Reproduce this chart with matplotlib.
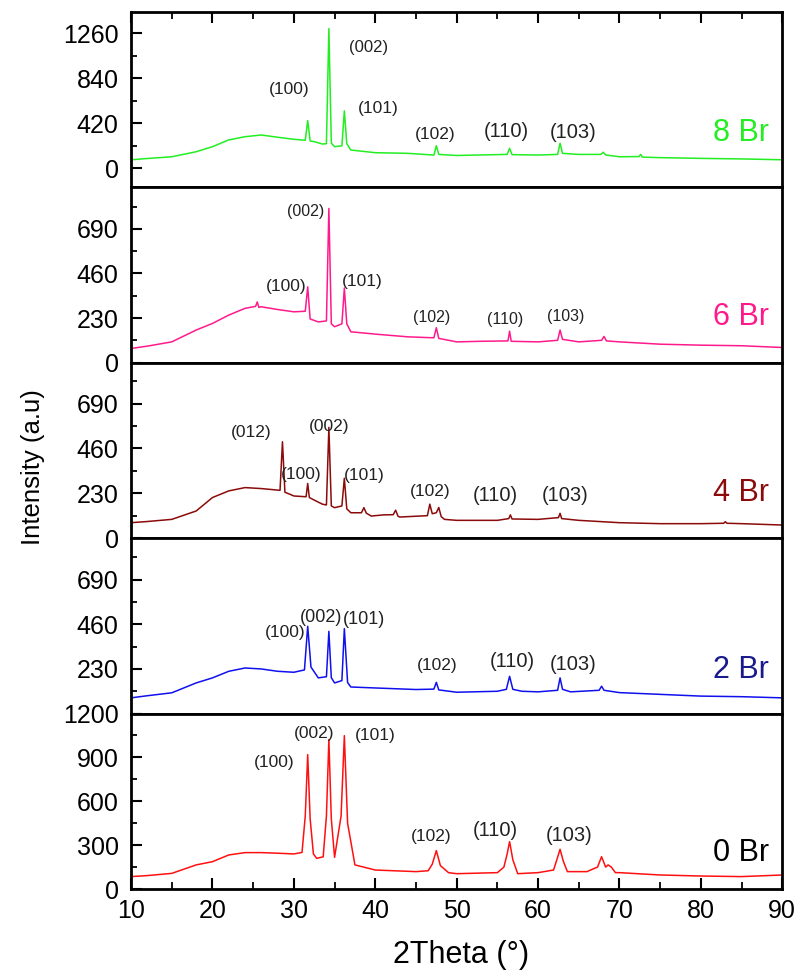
import matplotlib
matplotlib.use("Agg")
import matplotlib.pyplot as plt
from matplotlib.ticker import MultipleLocator

plt.rcParams['font.family'] = ['Liberation Sans', 'DejaVu Sans']

# values (2theta, intensity)
tt_8br = [10, 12, 15, 18, 20, 22, 24, 26, 28, 30, 31.4, 31.7, 32.0, 32.5, 33.5, 34.0, 34.3, 34.6,
          35.0, 35.9, 36.2, 36.5, 37, 40, 44, 47.2, 47.5, 47.8, 50, 53, 56.2, 56.5, 56.8, 60,
          62.4, 62.7, 63.0, 65, 67.7, 68, 68.3, 70, 72.4, 72.6, 72.8, 75, 80, 85, 90]
int_8br = [80, 92, 108, 155, 202, 265, 295, 311, 290, 271, 262, 445, 255, 249, 227, 230, 1302, 235,
           202, 210, 536, 230, 171, 146, 140, 124, 211, 130, 120, 125, 130, 187, 128, 124,
           130, 234, 140, 130, 130, 150, 125, 108, 110, 130, 105, 100, 93, 88, 80]

tt_6br = [10, 12, 15, 18, 20, 22, 24, 25.3, 25.5, 25.7, 26, 28, 30, 31.4, 31.7, 32.0, 33, 34.0,
          34.3, 34.6, 35, 35.9, 36.2, 36.5, 37, 40, 44, 47.2, 47.5, 47.8, 50, 53, 56.3, 56.5,
          56.7, 60, 62.4, 62.7, 63.0, 65, 67.8, 68.1, 68.4, 70, 75, 80, 85, 90]
int_6br = [73, 85, 107, 168, 202, 245, 280, 290, 313, 285, 288, 274, 262, 265, 391, 225, 210, 215,
           795, 200, 185, 200, 385, 200, 159, 147, 133, 128, 180, 125, 107, 110, 112, 162,
           110, 107, 115, 168, 120, 107, 115, 135, 112, 107, 95, 90, 87, 78]

tt_4br = [10, 12, 15, 18, 20, 22, 24, 26, 28.3, 28.6, 28.9, 29.5, 30, 31.5, 31.7, 31.9, 32.5,
          33.5, 34.0, 34.3, 34.6, 35, 35.9, 36.2, 36.5, 37, 38.3, 38.6, 38.9, 39.5, 41, 42.2,
          42.5, 42.8, 43, 46.4, 46.7, 47.0, 47.5, 47.8, 48.1, 48.5, 50, 55, 56.4, 56.6, 56.8,
          60, 62.5, 62.7, 62.9, 65, 70, 75, 80, 82.8, 83, 83.2, 85, 90]
int_4br = [79, 85, 96, 139, 208, 242, 259, 254, 245, 494, 235, 225, 216, 212, 280, 208, 195,
           174, 170, 568, 165, 156, 165, 307, 150, 130, 130, 156, 128, 113, 119, 120,
           143, 112, 108, 115, 174, 125, 130, 157, 110, 96, 91, 91, 100, 119, 98,
           96, 105, 127, 100, 91, 79, 74, 74, 76, 84, 76, 74, 67]

tt_2br = [10, 12, 15, 18, 20, 22, 24, 26, 28, 30, 31.3, 31.7, 32.1, 33, 34.0, 34.3, 34.6, 35,
          35.9, 36.2, 36.6, 37, 40, 45, 47.2, 47.5, 47.8, 50, 55, 56.1, 56.5, 56.9, 58, 60,
          62.4, 62.7, 63.0, 64, 67.5, 67.8, 68.1, 70, 75, 80, 85, 90]
int_2br = [81, 92, 107, 158, 184, 218, 235, 230, 218, 213, 225, 450, 240, 184, 190, 424, 185, 158,
           170, 438, 160, 137, 132, 124, 126, 161, 122, 110, 115, 125, 192, 125, 115, 112,
           120, 184, 125, 112, 120, 141, 120, 108, 99, 90, 87, 81]

tt_0br = [10, 12, 15, 18, 20, 22, 24, 26, 28, 30, 31.0, 31.4, 31.7, 32.0, 32.4, 32.8, 33.6, 34.0,
          34.3, 34.6, 35.0, 35.8, 36.2, 36.6, 37.5, 40, 45, 46.5, 47.0, 47.5, 48.0, 49, 50, 55,
          55.8, 56.2, 56.5, 56.9, 57.5, 60, 61.9, 62.3, 62.7, 63.1, 63.6, 64, 66, 67.3, 67.8,
          68.3, 68.6, 69.0, 69.5, 70, 75, 80, 85, 90]
int_0br = [85, 92, 107, 165, 187, 233, 249, 249, 245, 240, 250, 500, 919, 480, 240, 210, 220, 500,
           1022, 480, 217, 500, 1049, 450, 165, 130, 119, 125, 170, 263, 160, 112, 105, 112,
           150, 240, 324, 200, 105, 112, 130, 200, 272, 190, 119, 119, 119, 150, 221,
           150, 165, 150, 112, 112, 96, 89, 85, 96]

# peak labels: (text, x, y, fontsize)
lab_8br = [("(100)", 29.4, 732, 12.5), ("(002)", 39.2, 1128, 12), ("(101)", 40.4, 554, 12.5),
           ("(102)", 47.4, 318, 12.5), ("(110)", 56.1, 342, 14.5), ("(103)", 64.3, 332, 14.5)]
lab_6br = [("(002)", 31.4, 778, 11.5), ("(100)", 29.1, 394, 12.5), ("(101)", 38.4, 416, 12.5),
           ("(102)", 46.9, 231, 11.5), ("(110)", 55.9, 222, 11.5), ("(103)", 63.4, 236, 11.5)]
lab_4br = [("(012)", 24.7, 542, 12.5), ("(100)", 30.9, 328, 12.5), ("(002)", 34.3, 573, 12.5),
           ("(101)", 38.6, 323, 12.5), ("(102)", 46.7, 237, 12.5), ("(110)", 54.8, 216, 14.5),
           ("(103)", 63.3, 216, 14.5)]
lab_2br = [("(100)", 28.9, 419, 12.5), ("(002)", 33.3, 498, 13), ("(101)", 38.6, 484, 13),
           ("(102)", 47.6, 247, 12.5), ("(110)", 56.8, 266, 14.5), ("(103)", 64.3, 252, 14.5)]
lab_0br = [("(100)", 27.6, 862, 12.5), ("(002)", 32.5, 1061, 12.5), ("(101)", 40.0, 1049, 12.5),
           ("(102)", 46.9, 359, 12.5), ("(110)", 54.8, 400, 14.5), ("(103)", 63.8, 365, 14.5)]

panels = [
    ("8 Br", tt_8br, int_8br, lab_8br, "#22ee22", "#22ee22", (-175, 1460), [0, 420, 840, 1260], 210, 327),
    ("6 Br", tt_6br, int_6br, lab_6br, "#ff1a8c", "#ff1a8c", (0, 905), [0, 230, 460, 690], 115, 236),
    ("4 Br", tt_4br, int_4br, lab_4br, "#8b0a0a", "#8b0a0a", (0, 900), [0, 230, 460, 690], 115, 233),
    ("2 Br", tt_2br, int_2br, lab_2br, "#1010ee", "#1a1a8c", (0, 905), [0, 230, 460, 690], 115, 223),
    ("0 Br", tt_0br, int_0br, lab_0br, "#ff1010", "black", (0, 1200), [0, 300, 600, 900, 1200], 150, 249),
]

fig, axes = plt.subplots(5, 1, sharex=True, figsize=(8.09, 9.73), dpi=100)
fig.subplots_adjust(left=0.162, right=0.967, top=0.988, bottom=0.0863, hspace=0)

for i, (name, xs, ys, labs, c, tc, ylim, yt, minor, ty) in enumerate(panels):
    ax = axes[i]
    ax.plot(xs, ys, color=c, lw=1.1)
    for t, lx, ly, fs in labs:
        ax.text(lx, ly, t, fontsize=fs, ha='center', va='center', color='#222222')
    ax.text(84.9, ty, name, fontsize=22, ha='center', va='center', color=tc)
    ax.set_xlim(10, 90)
    ax.set_ylim(*ylim)
    ax.set_yticks(yt)
    if name == "2 Br":
        ax.set_yticklabels([""] + [str(v) for v in yt[1:]])
    ax.yaxis.set_minor_locator(MultipleLocator(minor))
    ax.tick_params(axis='y', which='major', direction='in', length=8, width=1.5,
                   labelsize=18, pad=9, right=False)
    ax.tick_params(axis='y', which='minor', direction='in', length=4, width=1.3, right=False)
    ax.xaxis.set_major_locator(MultipleLocator(10))
    ax.xaxis.set_minor_locator(MultipleLocator(5))
    ax.tick_params(axis='x', which='both', bottom=False, top=False, labelbottom=False)
    for s in ax.spines.values():
        s.set_linewidth(2)

axes[0].tick_params(axis='x', which='major', top=True, direction='in', length=8, width=1.5)
axes[0].tick_params(axis='x', which='minor', top=True, direction='in', length=5, width=1.3)
axes[-1].tick_params(axis='x', which='major', bottom=True, labelbottom=True, direction='in',
                     length=8, width=1.5, labelsize=18, pad=7)
axes[-1].tick_params(axis='x', which='minor', bottom=True, direction='in', length=5, width=1.3)

fig.text(33 / 809, 1 - 467 / 973, "Intensity (a.u)", rotation=90, fontsize=18.5,
         ha='center', va='center')
fig.text(461 / 809, 1 - 955 / 973, "2Theta (°)", fontsize=22, ha='center', va='center')

fig.savefig("out.png", dpi=100)
